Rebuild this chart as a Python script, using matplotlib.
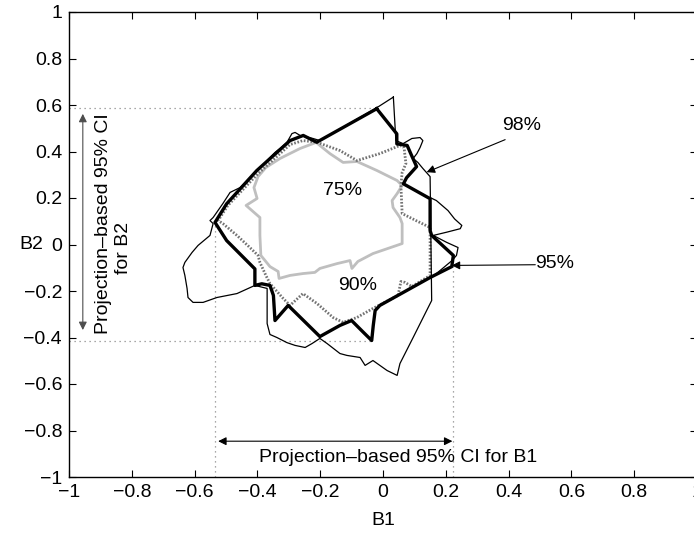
import matplotlib
matplotlib.use("Agg")
import matplotlib.pyplot as plt

plt.rcParams['font.family'] = ['Liberation Sans', 'DejaVu Sans']

# Joint confidence regions for (B1, B2)
b1_75 = [-0.213, -0.169, -0.127, -0.083, -0.019, 0.045, 0.061, 0.045, 0.029, 0.032,
         0.054, 0.061, 0.061, -0.032, -0.080, -0.099, -0.105, -0.146, -0.201, -0.217,
         -0.255, -0.296, -0.331, -0.334, -0.360, -0.389, -0.392, -0.392, -0.436, -0.401,
         -0.411, -0.398, -0.373, -0.328, -0.264, -0.213]
b2_75 = [0.439, 0.391, 0.353, 0.357, 0.318, 0.275, 0.254, 0.219, 0.189, 0.159,
         0.116, 0.090, 0.004, -0.039, -0.073, -0.103, -0.069, -0.082, -0.103, -0.120,
         -0.125, -0.133, -0.146, -0.116, -0.095, -0.047, 0.039, 0.116, 0.168, 0.198,
         0.245, 0.292, 0.331, 0.370, 0.413, 0.439]

b1_90 = [-0.211, -0.137, -0.083, -0.010, 0.054, 0.067, 0.073, 0.061, 0.057, 0.061,
         0.105, 0.150, 0.150, 0.092, 0.070, 0.057, 0.048, -0.032, -0.083, -0.127,
         -0.159, -0.210, -0.255, -0.296, -0.318, -0.360, -0.373, -0.392, -0.398, -0.424,
         -0.465, -0.510, -0.525, -0.494, -0.398, -0.296, -0.255, -0.211]
b2_90 = [0.440, 0.404, 0.361, 0.391, 0.426, 0.417, 0.348, 0.310, 0.254, 0.133,
         0.103, 0.073, -0.133, -0.181, -0.163, -0.159, -0.219, -0.275, -0.314, -0.335,
         -0.314, -0.254, -0.211, -0.262, -0.232, -0.168, -0.133, -0.077, -0.047, -0.013,
         0.039, 0.090, 0.103, 0.168, 0.305, 0.430, 0.447, 0.440]

b1_95 = [-0.020, 0.044, 0.044, 0.077, 0.091, 0.107, 0.075, 0.065, 0.150, 0.150,
         0.155, 0.224, 0.219, 0.150, -0.010, -0.025, -0.031, -0.036, -0.063, -0.100,
         -0.137, -0.201, -0.302, -0.344, -0.349, -0.360, -0.386, -0.408, -0.408, -0.498,
         -0.535, -0.498, -0.402, -0.296, -0.254, -0.211, -0.020]
b2_95 = [0.584, 0.476, 0.433, 0.426, 0.383, 0.335, 0.287, 0.261, 0.197, 0.060,
         0.039, -0.047, -0.095, -0.142, -0.262, -0.284, -0.348, -0.413, -0.377, -0.327,
         -0.348, -0.396, -0.262, -0.327, -0.219, -0.176, -0.169, -0.176, -0.105, 0.017,
         0.095, 0.175, 0.318, 0.447, 0.469, 0.440, 0.584]

b1_98 = [0.033, 0.041, 0.064, 0.092, 0.118, 0.127, 0.118, 0.108, 0.096, 0.111,
         0.127, 0.150, 0.155, 0.139, 0.096, 0.054, 0.045, 0.013, -0.032, -0.057,
         -0.073, -0.115, -0.137, -0.178, -0.201, -0.226, -0.248, -0.280, -0.306, -0.338,
         -0.360, -0.369, -0.369, -0.408, -0.465, -0.529, -0.573, -0.605, -0.621, -0.624,
         -0.631, -0.637, -0.631, -0.608, -0.589, -0.551, -0.541, -0.551, -0.541, -0.510,
         -0.487, -0.455, -0.433, -0.401, -0.360, -0.344, -0.328, -0.306, -0.290, -0.280,
         -0.264, -0.223, -0.201, -0.019, 0.033]
b2_98 = [0.634, 0.447, 0.434, 0.456, 0.460, 0.447, 0.417, 0.391, 0.370, 0.353,
         0.327, 0.292, -0.241, -0.284, -0.400, -0.512, -0.563, -0.542, -0.499, -0.520,
         -0.486, -0.477, -0.469, -0.426, -0.404, -0.426, -0.443, -0.434, -0.422, -0.400,
         -0.387, -0.340, -0.189, -0.176, -0.211, -0.228, -0.249, -0.249, -0.228, -0.189,
         -0.133, -0.099, -0.077, -0.034, -0.004, 0.039, 0.090, 0.103, 0.116, 0.176,
         0.224, 0.245, 0.275, 0.318, 0.374, 0.396, 0.413, 0.439, 0.477, 0.482,
         0.469, 0.456, 0.447, 0.589, 0.634]

# Side lobe of the 98% region on the right
b1_98_lobe = [0.150, 0.170, 0.207, 0.228, 0.251, 0.246, 0.203, 0.160, 0.203, 0.239,
              0.234, 0.219, 0.155]
b2_98_lobe = [0.202, 0.189, 0.146, 0.110, 0.082, 0.068, 0.053, 0.039, 0.009, -0.013,
              -0.047, -0.070, -0.142]

# Projection-based 95% CI limits
ci_b1 = [-0.535, 0.224]
ci_b2 = [-0.413, 0.585]

xticks = [-1, -0.8, -0.6, -0.4, -0.2, 0, 0.2, 0.4, 0.6, 0.8, 1]
yticks = [-1, -0.8, -0.6, -0.4, -0.2, 0, 0.2, 0.4, 0.6, 0.8, 1]
xtick_labels = ['\u22121', '\u22120.8', '\u22120.6', '\u22120.4', '\u22120.2', '0',
                '0.2', '0.4', '0.6', '0.8', '1']
ytick_labels = xtick_labels

W, H, DPI = 694, 534, 100
fig = plt.figure(figsize=(W / DPI, H / DPI), dpi=DPI)
ax = fig.add_axes([69 / W, 57 / H, 628 / W, 465 / H])
ax.set_xlim(-1, 1)
ax.set_ylim(-1, 1)

fs = 14
dot = dict(color='0.55', lw=0.9, linestyle=(0, (1, 3)))
# CI guide lines
ax.plot([-1, b1_95[0]], [ci_b2[1], ci_b2[1]], **dot)
ax.plot([-1, b1_95[17]], [ci_b2[0], ci_b2[0]], **dot)
ax.plot([ci_b1[0], ci_b1[0]], [-1, b2_95[30]], **dot)
ax.plot([ci_b1[1], ci_b1[1]], [-1, b2_95[11]], **dot)

ax.plot(b1_75, b2_75, color='0.75', lw=2.0, solid_joinstyle='round')
ax.plot(b1_90, b2_90, color='0.45', lw=2.0, linestyle=(0, (0.6, 0.6)))
ax.plot(b1_98, b2_98, color='black', lw=0.9)
ax.plot(b1_98_lobe, b2_98_lobe, color='black', lw=0.9)
ax.plot(b1_95, b2_95, color='black', lw=2.4, solid_joinstyle='round')

ax.text(-0.13, 0.232, '75%', fontsize=fs, ha='center', va='center')
ax.text(-0.08, -0.176, '90%', fontsize=fs, ha='center', va='center')

# Pointers to the 98% and 95% contours
pointer = dict(arrowstyle='-|>', color='black', lw=0.8, mutation_scale=12,
               shrinkA=0, shrinkB=0)
ax.text(0.44, 0.512, '98%', fontsize=fs, ha='center', va='center')
ax.annotate('', xy=(0.139, 0.311), xytext=(0.389, 0.451), arrowprops=pointer)
ax.text(0.545, -0.083, '95%', fontsize=fs, ha='center', va='center')
ax.annotate('', xy=(0.219, -0.090), xytext=(0.485, -0.087), arrowprops=pointer)

# CI arrows
ax.annotate('', xy=(ci_b1[0] + 0.01, -0.846), xytext=(ci_b1[1] - 0.003, -0.846),
            arrowprops=dict(arrowstyle='<|-|>', color='black', lw=0.8,
                            mutation_scale=12, shrinkA=0, shrinkB=0))
ax.text(0.048, -0.916, 'Projection\u2013based 95% CI for B1', fontsize=fs,
        ha='center', va='center')
ax.annotate('', xy=(-0.956, ci_b2[0] + 0.045), xytext=(-0.956, ci_b2[1] - 0.023),
            arrowprops=dict(arrowstyle='<|-|>', color='0.3', lw=0.8,
                            mutation_scale=12, shrinkA=0, shrinkB=0))
ax.text(-0.891, 0.089, 'Projection\u2013based 95% CI', fontsize=fs, rotation=90,
        ha='center', va='center')
ax.text(-0.827, -0.015, 'for B2', fontsize=fs, rotation=90,
        ha='center', va='center')

ax.set_xticks(xticks)
ax.set_xticklabels(xtick_labels)
ax.set_yticks(yticks)
ax.set_yticklabels(ytick_labels)
ax.tick_params(direction='in', top=True, right=True, length=5, width=0.8,
               labelsize=fs, pad=5)
for s in ax.spines.values():
    s.set_linewidth(1.0)
ax.set_xlabel('B1', fontsize=fs, labelpad=8)
ax.set_ylabel('B2', fontsize=fs, rotation=0, labelpad=8, va='center')
ax.yaxis.set_label_coords(-0.06, 0.5)

fig.savefig('out.png', dpi=DPI)
